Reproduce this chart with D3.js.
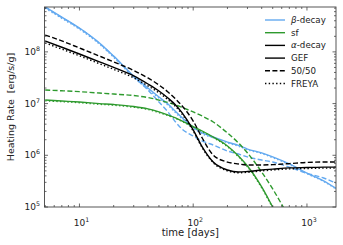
<!DOCTYPE html>
<html><head><meta charset="utf-8">
<script src="https://cdn.jsdelivr.net/npm/d3@7"></script>
<style>body{margin:0;background:#fff}svg{font-family:"DejaVu Sans",sans-serif}</style>
</head><body>
<svg id="c" width="343" height="245"></svg>
<script>
// ---- data ----
const time = [5,7,10,15,20,30,40,50,60,70,80,100,120,150,200,250,300,400,500,700,1000,1400,1800];
const betaGEF   = [7.4e8,4.7e8,2.9e8,1.49e8,8.3e7,3.4e7,2.0e7,1.34e7,9.8e6,7.0e6,5.3e6,3.5e6,2.7e6,2.26e6,1.8e6,1.55e6,1.32e6,1.11e6,9.3e5,6.8e5,4.5e5,3.2e5,2.3e5];
const betaFREYA = [7.0e8,4.45e8,2.75e8,1.41e8,7.85e7,3.22e7,1.9e7,1.27e7,9.3e6,6.65e6,5.05e6,3.35e6,2.6e6,2.18e6,1.74e6,1.5e6,1.28e6,1.08e6,9.0e5,6.6e5,4.4e5,3.12e5,2.24e5];
const beta5050  = [7.3e8,4.6e8,2.85e8,1.46e8,8.1e7,3.3e7,1.83e7,1.07e7,6.9e6,4.4e6,3.2e6,2.36e6,1.89e6,1.58e6,1.21e6,1.06e6,9.3e5,8.1e5,7.4e5,5.9e5,4.5e5,3.64e5,2.9e5];
const alphaGEF   = [1.63e8,1.23e8,9.1e7,6.4e7,5.0e7,3.42e7,2.39e7,1.75e7,1.28e7,9.4e6,6.6e6,3.1e6,1.45e6,7.4e5,5.2e5,4.75e5,4.86e5,5.2e5,5.4e5,5.7e5,5.8e5,5.9e5,5.9e5];
const alphaFREYA = [1.49e8,1.13e8,8.4e7,5.9e7,4.6e7,3.15e7,2.2e7,1.62e7,1.19e7,8.8e6,6.2e6,2.95e6,1.4e6,7.2e5,5.0e5,4.6e5,4.7e5,5.0e5,5.2e5,5.45e5,5.55e5,5.65e5,5.65e5];
const alpha5050  = [2.12e8,1.63e8,1.19e8,8.3e7,6.4e7,4.37e7,3.13e7,2.29e7,1.68e7,1.23e7,9.0e6,4.6e6,2.16e6,1.01e6,7.4e5,6.8e5,6.5e5,6.5e5,6.6e5,6.9e5,7.3e5,7.4e5,7.4e5];
const sfGEF   = [1.17e7,1.12e7,1.07e7,1.0e7,9.6e6,8.8e6,7.9e6,6.9e6,6.0e6,5.3e6,4.6e6,3.6e6,2.95e6,2.26e6,1.51e6,9.7e5,6.2e5,2.44e5,1.0e5,2.6e4,null,null,null];
const sfFREYA = [1.13e7,1.09e7,1.04e7,9.7e6,9.3e6,8.5e6,7.7e6,6.7e6,5.85e6,5.15e6,4.5e6,3.5e6,2.87e6,2.2e6,1.47e6,9.4e5,6.0e5,2.35e5,9.6e4,2.5e4,null,null,null];
const sf5050  = [1.83e7,1.77e7,1.70e7,1.60e7,1.53e7,1.43e7,1.31e7,1.17e7,1.05e7,9.4e6,8.4e6,6.9e6,5.75e6,4.4e6,2.7e6,1.73e6,1.11e6,4.75e5,2.23e5,6.1e4,null,null,null];
const xTicks = [10,100,1000];
const yTicks = [1e5,1e6,1e7,1e8];
const legendLabels = ["β-decay","sf","α-decay","GEF","50/50","FREYA"];

// ---- layout ----
const svg = d3.select("#c");
const L=44.5, R=336, T=7, B=207;
const x = d3.scaleLog().domain([4.93,1800]).range([L,R]);
const y = d3.scaleLog().domain([1e5,7.38e8]).range([B,T]);
const cBlue="#64aaf0", cGreen="#2e9a2e", cBlack="#000";
const dashS="5,2.4", dotS="1.4,2.3";

svg.append("clipPath").attr("id","clip").append("rect")
  .attr("x",L).attr("y",T).attr("width",R-L).attr("height",B-T);

const line = d3.line().defined(d=>d[1]!=null).x(d=>x(d[0])).y(d=>y(d[1])).curve(d3.curveMonotoneX);
const g = svg.append("g").attr("clip-path","url(#clip)");
const series = [
  [betaGEF,cBlue,null],[beta5050,cBlue,dashS],[betaFREYA,cBlue,dotS],
  [sfGEF,cGreen,null],[sf5050,cGreen,dashS],[sfFREYA,cGreen,dotS],
  [alphaGEF,cBlack,null],[alpha5050,cBlack,dashS],[alphaFREYA,cBlack,dotS]
];
series.forEach(([vals,col,da])=>{
  g.append("path").datum(time.map((t,i)=>[t,vals[i]]))
   .attr("d",line).attr("fill","none").attr("stroke",col).attr("stroke-width",1.4)
   .attr("stroke-dasharray",da);
});

// ---- axes frame & ticks (inward, all sides) ----
const axCol="#444";
const ax = svg.append("g");
ax.append("rect").attr("x",L).attr("y",T).attr("width",R-L).attr("height",B-T)
  .attr("fill","none").attr("stroke",axCol).attr("stroke-width",0.9);
function minors(dom){
  const out=[];const lo=Math.floor(Math.log10(dom[0])), hi=Math.ceil(Math.log10(dom[1]));
  for(let e=lo;e<=hi;e++)for(let m=2;m<=9;m++){const v=m*Math.pow(10,e);if(v>=dom[0]&&v<=dom[1])out.push(v);}
  return out;
}
const xMin=minors(x.domain()), yMin=minors(y.domain());
function tickX(v,len){ax.append("line").attr("x1",x(v)).attr("x2",x(v)).attr("y1",B).attr("y2",B-len).attr("stroke",axCol).attr("stroke-width",0.8);
  ax.append("line").attr("x1",x(v)).attr("x2",x(v)).attr("y1",T).attr("y2",T+len).attr("stroke",axCol).attr("stroke-width",0.8);}
function tickY(v,len){ax.append("line").attr("y1",y(v)).attr("y2",y(v)).attr("x1",L).attr("x2",L+len).attr("stroke",axCol).attr("stroke-width",0.8);
  ax.append("line").attr("y1",y(v)).attr("y2",y(v)).attr("x1",R).attr("x2",R-len).attr("stroke",axCol).attr("stroke-width",0.8);}
xMin.forEach(v=>tickX(v,2)); xTicks.forEach(v=>tickX(v,3.5));
yMin.forEach(v=>tickY(v,2)); yTicks.forEach(v=>tickY(v,3.5));

function powLabel(sel,v){
  sel.append("tspan").text("10");
  sel.append("tspan").attr("dy",-4).attr("font-size",6.3).text(Math.round(Math.log10(v)));
}
xTicks.forEach(v=>{
  const t=svg.append("text").attr("x",x(v)+2).attr("y",226).attr("text-anchor","middle").attr("font-size",9).attr("fill","#222");
  powLabel(t,v);
});
yTicks.forEach(v=>{
  const t=svg.append("text").attr("x",40).attr("y",y(v)+3).attr("text-anchor","end").attr("font-size",9).attr("fill","#222");
  powLabel(t,v);
});
svg.append("text").attr("x",(L+R)/2).attr("y",236).attr("text-anchor","middle").attr("font-size",10).attr("fill","#222").text("time [days]");
svg.append("text").attr("transform",`translate(14,${(T+B)/2}) rotate(-90)`).attr("text-anchor","middle")
  .attr("font-size",9.5).attr("fill","#222").style("white-space","pre").text("Heating Rate  [erg/s/g]");

// ---- legend ----
const legStyles=[[cBlue,null],[cGreen,null],[cBlack,null],[cBlack,null],[cBlack,dashS],[cBlack,dotS]];
const leg = svg.append("g");
legendLabels.forEach((lab,i)=>{
  const yy=20+i*12.7;
  leg.append("line").attr("x1",265).attr("x2",285).attr("y1",yy).attr("y2",yy)
    .attr("stroke",legStyles[i][0]).attr("stroke-width",1.4).attr("stroke-dasharray",legStyles[i][1]);
  const t=leg.append("text").attr("x",291).attr("y",yy+3).attr("font-size",8.7).attr("fill","#222");
  if(lab[0]==="β"||lab[0]==="α"){t.append("tspan").attr("font-style","italic").text(lab[0]);t.append("tspan").text(lab.slice(1));}
  else t.text(lab);
});
</script>
</body></html>
